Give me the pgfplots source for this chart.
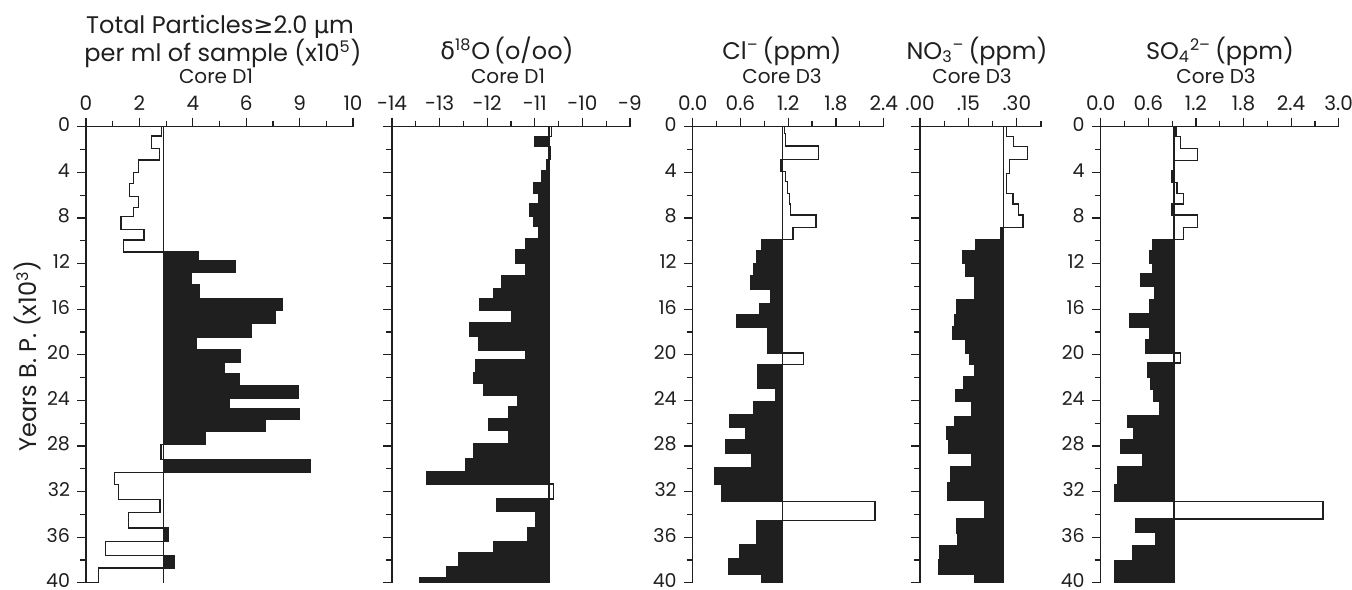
\documentclass[border=0pt]{standalone}
\usepackage{fontspec}
\setmainfont{Poppins}
\newfontfamily\dejavu{DejaVu Sans}
\usepackage{pgfplots}
\pgfplotsset{compat=1.18}
\usepackage{pgfplotstable}

% depth (top of interval, 10^3 yr B.P.) and value of each interval
\pgfplotstableread{
y v
0 2.9
0 2.84
0.82 2.46
1.9 2.75
2.92 1.97
4.03 1.77
4.96 1.62
6.13 1.96
7.07 1.77
7.89 1.31
9.0 2.17
9.93 1.40
11.0 4.21
11.74 5.59
12.8 3.96
13.87 4.24
15.04 7.37
16.12 7.09
17.23 6.21
18.49 4.15
19.57 5.77
20.68 5.17
21.67 5.75
22.73 7.94
23.81 5.37
24.69 7.99
25.71 6.71
26.73 4.46
27.9 2.81
29.21 8.40
30.33 1.06
31.4 1.21
32.72 2.77
33.83 1.59
35.2 3.09
36.37 0.72
37.6 3.32
38.7 0.47
40 0.47
40 0
}\particles

\pgfplotstableread{
y v
0 -10.70
0 -10.65
0.88 -11.0
1.75 -10.68
2.86 -10.75
3.85 -10.86
4.91 -11.03
5.84 -10.91
6.78 -11.1
7.83 -11.02
8.76 -10.91
9.82 -11.2
10.8 -11.4
11.97 -11.2
13.1 -11.7
14.2 -11.86
15.04 -12.16
16.12 -11.48
17.23 -12.37
18.4 -12.18
19.66 -11.2
20.45 -12.25
21.56 -12.29
22.5 -12.08
23.6 -11.37
24.6 -11.55
25.65 -11.97
26.6 -11.55
27.8 -12.29
29.15 -12.46
30.24 -13.28
31.35 -10.61
32.66 -11.8
33.74 -10.98
35.2 -11.16
36.37 -11.86
37.4 -12.6
38.56 -12.86
39.58 -13.41
40 -13.41
40 -10.70
}\oxygen

\pgfplotstableread{
y v
0 1.13
0 1.15
0.58 1.17
1.69 1.58
2.86 1.11
3.94 1.17
4.82 1.19
5.84 1.22
6.78 1.23
7.74 1.55
8.82 1.26
9.87 0.87
10.86 0.80
11.97 0.76
13.09 0.73
14.25 0.98
15.48 0.84
16.5 0.55
17.58 0.94
19.86 1.39
20.88 0.82
22.93 1.04
24.1 0.76
25.27 0.46
26.35 0.66
27.45 0.41
28.69 0.74
29.94 0.28
31.4 0.36
32.87 2.29
34.53 0.80
36.66 0.59
37.92 0.45
39.29 0.87
40 0.87
40 1.13
}\chloride

\pgfplotstableread{
y v
0 0.259
0 0.269
0.88 0.29
1.75 0.333
2.86 0.277
4.08 0.267
4.91 0.269
5.84 0.288
6.78 0.305
7.74 0.319
8.82 0.25
9.87 0.171
10.86 0.133
11.97 0.14
13.09 0.168
15.19 0.114
16.5 0.106
17.53 0.101
18.69 0.14
19.86 0.155
20.88 0.168
21.91 0.134
23.08 0.109
24.1 0.16
25.42 0.106
26.35 0.083
27.45 0.088
28.63 0.16
29.85 0.095
31.25 0.085
32.78 0.199
34.41 0.112
35.64 0.116
36.75 0.062
37.97 0.057
39.29 0.168
40 0.168
40 0.259
}\nitrate

\pgfplotstableread{
y v
0 0.924
0 0.95
0.88 1.01
1.9 1.22
2.98 0.92
3.85 0.895
4.91 0.96
5.84 1.04
6.78 0.895
7.74 1.22
8.82 1.04
9.87 0.655
10.86 0.62
11.97 0.655
12.85 0.504
13.96 0.685
15.19 0.613
16.42 0.36
17.58 0.613
18.69 0.571
19.86 1.01
20.74 0.588
21.97 0.63
23.02 0.664
24.1 0.74
25.36 0.336
26.35 0.42
27.45 0.252
28.69 0.53
29.8 0.21
31.4 0.18
32.87 2.80
34.41 0.445
35.58 0.697
36.75 0.403
38.04 0.18
40 0.18
40 0.924
}\sulfate

\definecolor{ink}{gray}{0.12}

\pgfplotsset{
  core/.style={
    scale only axis, height=228pt, anchor=north west,
    y dir=reverse, ymin=0, ymax=40,
    axis x line*=top, axis y line*=left,
    ytick={0,4,...,40}, minor ytick={2,6,...,38},
    tick align=outside,
    major tick length=4.5pt, minor tick length=3pt,
    tick style={line width=0.6pt, color=ink},
    axis line style={line width=0.6pt, color=ink, -},
    xticklabel style={font=\fontsize{10}{11}\selectfont, text=ink},
    yticklabel style={font=\fontsize{9.5}{10}\selectfont, text=ink,
      inner ysep=0pt, yshift=1pt},
    /pgf/number format/assume math mode=true,
    clip=false,
  },
  step/.style={ink, line width=0.65pt, const plot mark right},
  solid fill/.style={fill=ink, draw=none, const plot mark right},
}

\begin{document}
\begin{tikzpicture}

% Total particles
\begin{axis}[core, at={(43pt,-63.35pt)}, width=133.5pt,
    xmin=0, xmax=10, xtick={0,2,...,10}, xticklabels={0,2,4,6,9,10},
    minor xtick={1,3,...,9}]
  \addplot[solid fill] table[x expr={max(\thisrow{v},2.9)}, y=y] {\particles};
  \addplot[step] table[x=v, y=y] {\particles};
  \addplot[ink, line width=0.6pt] coordinates {(2.9,0) (2.9,40)};
\end{axis}

% delta 18O
\begin{axis}[core, at={(196pt,-63.35pt)}, width=119pt,
    xmin=-14, xmax=-9, xtick={-14,-13,...,-9},
    xticklabels={-14,-13,-12,-11,-10,-9},
    minor xtick={-13.5,-12.5,...,-9.5}, yticklabels={}]
  \addplot[solid fill] table[x expr={min(\thisrow{v},-10.7)}, y=y] {\oxygen};
  \addplot[step] table[x=v, y=y] {\oxygen};
  \addplot[ink, line width=0.6pt] coordinates {(-10.7,0) (-10.7,40)};
\end{axis}

% Cl
\begin{axis}[core, at={(346.35pt,-63.35pt)}, width=95.5pt,
    xmin=0, xmax=2.4, xtick={0,0.6,...,2.4},
    xticklabels={0.0,0.6,1.2,1.8,2.4}, minor xtick={0.3,0.9,...,2.1}]
  \addplot[solid fill] table[x expr={min(\thisrow{v},1.13)}, y=y] {\chloride};
  \addplot[step] table[x=v, y=y] {\chloride};
  \addplot[ink, line width=0.6pt] coordinates {(1.13,0) (1.13,40)};
\end{axis}

% NO3
\begin{axis}[core, at={(460pt,-63.35pt)}, width=60.5pt,
    xmin=0, xmax=0.375, xtick={0,0.15,0.3}, xticklabels={.00,.15,.30},
    minor xtick={0.075,0.225,0.375}, yticklabels={}]
  \addplot[solid fill] table[x expr={min(\thisrow{v},0.259)}, y=y] {\nitrate};
  \addplot[step] table[x=v, y=y] {\nitrate};
  \addplot[ink, line width=0.6pt] coordinates {(0.259,0) (0.259,40)};
\end{axis}

% SO4
\begin{axis}[core, at={(550.35pt,-63.35pt)}, width=119pt,
    xmin=0, xmax=3, xtick={0,0.6,...,3.0},
    xticklabels={0.0,0.6,1.2,1.8,2.4,3.0}, minor xtick={0.3,0.9,...,2.7}]
  \addplot[solid fill] table[x expr={min(\thisrow{v},0.924)}, y=y] {\sulfate};
  \addplot[step] table[x=v, y=y] {\sulfate};
  \addplot[ink, line width=0.6pt] coordinates {(0.924,0) (0.924,40)};
\end{axis}

% headings
\begin{scope}[every node/.style={anchor=base, text=ink, inner sep=0pt}]
  \node[font=\fontsize{12}{14}\selectfont] at (110pt,-16.5pt)
    {Total Particles{\dejavu ≥}2.0 {\dejavu μ}m};
  \node[font=\fontsize{12}{14}\selectfont] at (111.5pt,-30.5pt)
    {per ml of sample (x10\textsuperscript{5})};
  \node[font=\fontsize{10}{12}\selectfont] at (108pt,-41.5pt) {Core D1};
  \node[font=\fontsize{12}{14}\selectfont] at (253.5pt,-29.5pt)
    {{\dejavu δ}\textsuperscript{18}O\,(o/oo)};
  \node[font=\fontsize{10}{12}\selectfont] at (254pt,-41.5pt) {Core D1};
  \node[font=\fontsize{12}{14}\selectfont] at (391pt,-29.5pt)
    {Cl\textsuperscript{--}\,(ppm)};
  \node[font=\fontsize{10}{12}\selectfont] at (391pt,-41.5pt) {Core D3};
  \node[font=\fontsize{12}{14}\selectfont] at (488.5pt,-29.5pt)
    {NO\textsubscript{3}\textsuperscript{--}\,(ppm)};
  \node[font=\fontsize{10}{12}\selectfont] at (486pt,-41.5pt) {Core D3};
  \node[font=\fontsize{12}{14}\selectfont] at (610pt,-29.5pt)
    {SO\textsubscript{4}\textsuperscript{2--}\,(ppm)};
  \node[font=\fontsize{10}{12}\selectfont] at (608pt,-41.5pt) {Core D3};
\end{scope}
\node[rotate=90, text=ink, font=\fontsize{12}{14}\selectfont] at (14pt,-178pt)
  {Years B. P. (x10\textsuperscript{3})};

\pgfresetboundingbox
\path[use as bounding box] (0,0) rectangle (676pt,-294.5pt);
\end{tikzpicture}
\end{document}
